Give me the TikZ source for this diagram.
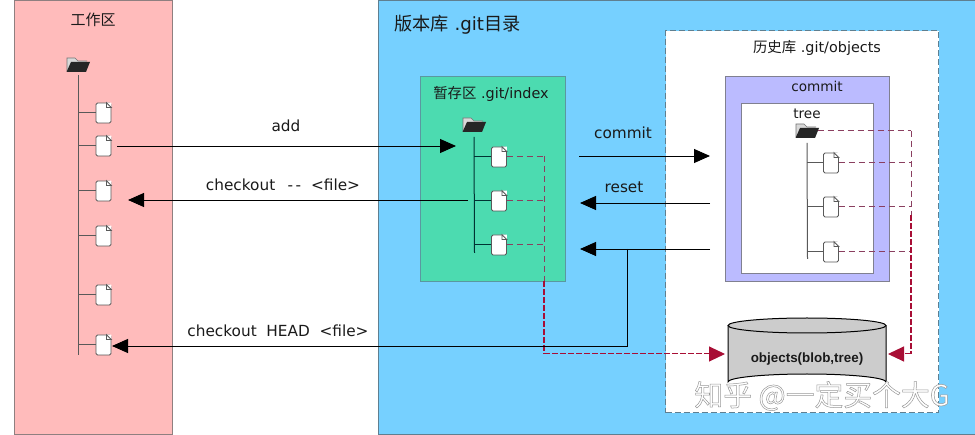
\documentclass[tikz,border=0pt]{standalone}
\usepackage{fontspec}
\setmainfont{DejaVu Sans}
\newfontfamily\cjk{Noto Sans CJK SC}
\newfontfamily\helv{Liberation Sans}
\usetikzlibrary{arrows.meta,calc}
\definecolor{workfill}{HTML}{FFBBBB}
\definecolor{workedge}{HTML}{8F7F80}
\definecolor{repofill}{HTML}{76D0FF}
\definecolor{repoedge}{HTML}{5F7F90}
\definecolor{indexfill}{HTML}{4CDBB0}
\definecolor{indexedge}{HTML}{5A98A0}
\definecolor{commitfill}{HTML}{BBBBFF}
\definecolor{commitedge}{HTML}{808090}
\definecolor{darkred}{HTML}{A80E35}
\definecolor{softred}{HTML}{8A3F60}
\definecolor{inktext}{HTML}{1A1A1A}
\tikzset{
  panel/.style={draw=#1,line width=1.2pt,inner sep=0pt,anchor=north west},
  lab/.style={inner sep=0pt,text=inktext,font=\fontsize{15.3}{18}\selectfont},
  smalllab/.style={inner sep=0pt,text=inktext,font=\fontsize{14.4}{17}\selectfont},
  docnode/.style={draw=#1,fill=white,line width=.8pt,minimum width=15pt,minimum height=20pt,inner sep=0pt,rounded corners=1.5pt},
  docnode/.default={black!65},
  foldnode/.style={minimum width=23pt,minimum height=14pt,inner sep=0pt},
  trunk/.style={line width=1pt,draw=#1},
  trunk/.default={black!65},
  flow/.style={draw=black,line width=.9pt,-{Triangle[length=16pt,width=14pt]}},
  dlink/.style={draw=softred,line width=1pt,dash pattern=on 6pt off 4pt},
  dstrong/.style={draw=darkred,line width=1.1pt,dash pattern=on 6pt off 2pt},
  dlinkhead/.style={draw=darkred,line width=1pt,dash pattern=on 6pt off 2pt,-{Triangle[length=16pt,width=15pt,fill=darkred]}},
}
\newcommand{\docicon}[3][black!65]{%
  \node[docnode=#1] (#2) at (#3) {};
  \fill[white] ($(#2.north east)+(-5,0)$) -- (#2.north east) -- ($(#2.north east)+(0,5)$) -- cycle;
  \draw[#1,line width=.8pt] ($(#2.north east)+(-5,0)$) -- ($(#2.north east)+(-5,5)$) -- ($(#2.north east)+(0,5)$) -- cycle;
}
\newcommand{\foldericon}[2]{%
  \node[foldnode] (#1) at (#2) {};
  \draw[black!55,line width=.6pt,fill=white!70!gray] ($(#1.center)+(-11,6)$) -- ($(#1.center)+(-11,-7)$) -- ($(#1.center)+(-3,-7)$) -- ($(#1.center)+(0,-4)$) -- ($(#1.center)+(9,-4)$);
  \fill[black!85] ($(#1.center)+(-11.5,7)$) -- ($(#1.center)+(-7,-3)$) -- ($(#1.center)+(12,-3)$) -- ($(#1.center)+(8,7)$) -- cycle;
}
\begin{document}
\begin{tikzpicture}[x=1pt,y=-1pt]
\useasboundingbox (0,0) rectangle (975,435);
\fill[white] (0,0) rectangle (975,435);
% panels
\node[panel=workedge,fill=workfill,minimum width=158pt,minimum height=434pt] (work) at (14,0) {};
\node[panel=repoedge,fill=repofill,minimum width=597pt,minimum height=434pt] (repo) at (378,0) {};
\node[panel=indexedge,fill=indexfill,minimum width=145pt,minimum height=205pt] (index) at (419.5,76) {};
\node[panel=repoedge,fill=white,dash pattern=on 6pt off 3pt,minimum width=273pt,minimum height=382pt] (hist) at (665,30) {};
\node[panel=commitedge,fill=commitfill,minimum width=164pt,minimum height=205pt] (commitbox) at (725,76) {};
\node[panel=commitedge,fill=white,minimum width=132pt,minimum height=170pt] (treebox) at (741,103) {};
% titles
\node[inner sep=0pt,text=inktext,font=\fontsize{15}{18}\selectfont] (worktitle) at (93,20) {\cjk 工作区};
\node[inner sep=0pt,anchor=west,text=inktext,font=\fontsize{18.2}{21}\selectfont] (repotitle) at (394,24.5) {{\cjk 版本库} .git{\cjk 目录}};
\node[smalllab] (indextitle) at (491,94) {{\cjk 暂存区} .git/index};
\node[smalllab] (histtitle) at (817,47.5) {{\cjk 历史库} .git/objects};
\node[inner sep=0pt,text=inktext,font=\fontsize{13.6}{16}\selectfont] (committitle) at (817,86.5) {commit};
\node[inner sep=0pt,text=inktext,font=\fontsize{13.6}{16}\selectfont] (treetitle) at (807,113.5) {tree};
% work tree
\foldericon{wf}{78,65}
\coordinate (wt) at (78,75);
\coordinate (wb) at (78,355);
\draw[trunk] (wt) -- (wb);
\docicon{w1}{103.5,113}
\docicon{w2}{103.5,146}
\docicon{w3}{103.5,191}
\docicon{w4}{103.5,236}
\docicon{w5}{103.5,295}
\docicon{w6}{103.5,345}
\foreach \d in {w1,w2,w3,w4,w5,w6} \draw[trunk] (\d.west) -- (\d.west -| wt);
% index tree
\foldericon{xf}{474,125}
\coordinate (xt) at (474,137);
\coordinate (xb) at (474.5,253);
\draw[trunk={black!60!teal}] (xt) -- (xb);
\docicon{x1}{499,157}
\docicon{x2}{499,201}
\docicon{x3}{499,245}
\foreach \d in {x1,x2,x3} \draw[trunk={black!60!teal}] (\d.west) -- (\d.west -| xt);
% commit tree
\foldericon{tf}{807,131}
\coordinate (tt) at (807,143);
\coordinate (tb) at (807.5,259);
\draw[trunk] (tt) -- (tb);
\docicon{t1}{831,163}
\docicon{t2}{831,207}
\docicon{t3}{831,252}
\foreach \d in {t1,t2,t3} \draw[trunk] (\d.west) -- (\d.west -| tt);
% cylinder
\coordinate (cyltl) at (728,325.5);
\coordinate (cyltr) at (886,325.5);
\fill[black!20] (cyltl) -- (728,382) arc[x radius=79,y radius=8,start angle=180,end angle=360] -- (cyltr) -- cycle;
\draw[line width=1pt,black] (cyltl) -- (728,382) arc[x radius=79,y radius=8,start angle=180,end angle=360] -- (cyltr);
\draw[line width=1pt,black,fill=black!20] (807,325.5) ellipse[x radius=79,y radius=7.5];
\node[inner sep=0pt,font=\helv\bfseries\fontsize{13.4}{16}\selectfont,text=inktext] (store) at (807,359) {objects(blob,tree)};
% dashed links
\coordinate (xbus) at (544,156);
\coordinate (xmid) at (544,281);
\coordinate (xcorner) at (544,354);
\coordinate (storeL) at (725,354);
\coordinate (tbus) at (911,131);
\coordinate (tmid) at (911,215);
\coordinate (tcorner) at (911,354);
\coordinate (storeR) at (888,354);
\foreach \d in {x1,x2,x3} \draw[dlink] (\d.east) -- (\d.east -| xbus);
\foreach \d in {t1,t2,t3} \draw[dlink] (\d.east) -- (\d.east -| tbus);
\draw[dlink] ($(tf.east)+(-1,0)$) -- (tbus);
\draw[dlink] (tbus) -- (tmid);
\draw[dstrong] (tmid) -- (tcorner);
\draw[dlink] (xbus) -- (xmid);
\draw[dstrong] (xmid) -- (xcorner);
\draw[dlinkhead] (xcorner) -- (storeL);
\draw[dlinkhead] (tcorner) -- (storeR);
% flows
\coordinate (addS) at (117,146);
\coordinate (addE) at (456,146);
\coordinate (coS) at (468,200);
\coordinate (coE) at (128,200);
\coordinate (cmS) at (579,156);
\coordinate (cmE) at (710,156);
\coordinate (rsS) at (710,203);
\coordinate (rsE) at (580,203);
\coordinate (hdS) at (710,249);
\coordinate (hdE) at (580,249);
\coordinate (hdJ) at (627,249);
\coordinate (hdB) at (627,346);
\coordinate (hdT) at (112,346);
\draw[flow] (addS) -- (addE);
\draw[flow] (coS) -- (coE);
\draw[flow] (cmS) -- (cmE);
\draw[flow] (rsS) -- (rsE);
\draw[flow] (hdS) -- (hdE);
\draw[flow] (hdJ) -- (hdB) -- (hdT);
% labels
\node[lab] (ladd) at (286,125.5) {add};
\node[lab] (lco) at (283,184.5) {checkout\ \ \,{-}\,{-}\,\, <file>};
\node[lab] (lcm) at (623,132.5) {commit};
\node[lab] (lrs) at (624,187.5) {reset};
\node[lab] (lhd) at (278,330.5) {checkout\ \ HEAD\ \ <file>};
% watermark
\node[inner sep=0pt,text=white,font=\cjk\fontsize{28.8}{32}\selectfont] (wm) at (822,396) {\special{pdf:code q 2 Tr 0.6 G 0.5 w}知乎 @一定买个大G\special{pdf:code Q}};
\end{tikzpicture}
\end{document}
